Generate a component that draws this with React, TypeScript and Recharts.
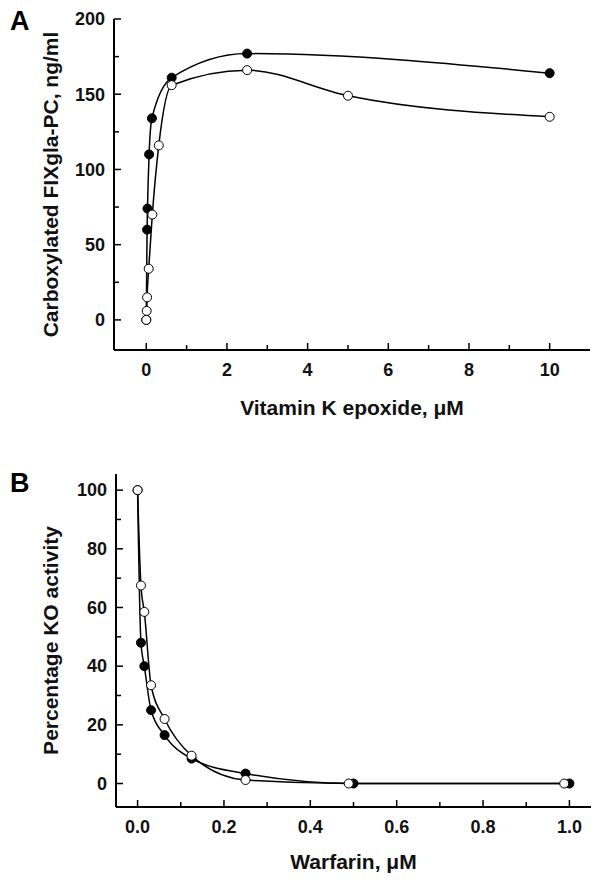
import { LineChart, Line, XAxis, YAxis, Label } from "recharts";

// Panel A: carboxylation vs vitamin K epoxide
const aFilledX = [0, 0.02, 0.03, 0.07, 0.14, 0.63, 2.5, 10];
const aFilledY = [0, 60, 74, 110, 134, 161, 177, 164];
const aOpenX = [0, 0.01, 0.02, 0.06, 0.15, 0.31, 0.63, 2.5, 5, 10];
const aOpenY = [0, 6, 15, 34, 70, 116, 156, 166, 149, 135];
const aXTicks = [0, 1, 2, 3, 4, 5, 6, 7, 8, 9, 10];
const aYTicks = [0, 25, 50, 75, 100, 125, 150, 175, 200];

// Panel B: KO activity vs warfarin
const bFilledX = [0, 0.0078, 0.0156, 0.03125, 0.0625, 0.125, 0.25, 0.5, 1.0];
const bFilledY = [100, 48, 40, 25, 16.5, 8.5, 3.4, 0, 0];
const bOpenX = [0, 0.0078, 0.0156, 0.03125, 0.0625, 0.125, 0.25, 0.489, 0.988];
const bOpenY = [100, 67.5, 58.5, 33.5, 22, 9.5, 1.2, 0, 0];
const bXTicks = [0, 0.1, 0.2, 0.3, 0.4, 0.5, 0.6, 0.7, 0.8, 0.9, 1.0];
const bYTicks = [0, 10, 20, 30, 40, 50, 60, 70, 80, 90, 100];

const FONT = "'Liberation Sans', Arial, sans-serif";

const zip = (xs: number[], ys: number[]) => xs.map((x, i) => ({ x, y: ys[i] }));

function isMajor(value: number, minorStep: number) {
  return Math.round(value / minorStep) % 2 === 0;
}

function makeXTick(minorStep: number, fmt: (v: number) => string) {
  return (props: any) => {
    const { x, y, payload } = props;
    const major = isMajor(payload.value, minorStep);
    return (
      <g>
        <line x1={x} x2={x} y1={y} y2={y - (major ? 7 : 5)} stroke="#000" strokeWidth={1.5} />
        {major && (
          <text x={x} y={y + 20} dy="0.35em" textAnchor="middle" fontFamily={FONT} fontWeight="bold" fontSize={18} fill="#111">
            {fmt(payload.value)}
          </text>
        )}
      </g>
    );
  };
}

function makeYTick(minorStep: number) {
  return (props: any) => {
    const { x, y, payload } = props;
    const major = isMajor(payload.value, minorStep);
    return (
      <g>
        <line x1={x} x2={x + (major ? 7 : 5)} y1={y} y2={y} stroke="#000" strokeWidth={1.5} />
        {major && (
          <text x={x - 9} y={y} dy="0.35em" textAnchor="end" fontFamily={FONT} fontWeight="bold" fontSize={18} fill="#111">
            {payload.value}
          </text>
        )}
      </g>
    );
  };
}

const axisLine = { stroke: "#000", strokeWidth: 2 };
const filledDot = { r: 4.5, fill: "#000", stroke: "#000", strokeWidth: 1 };
const openDot = { r: 4.5, fill: "#fff", stroke: "#000", strokeWidth: 1 };

interface PanelProps {
  top: number;
  height: number;
  margin: { top: number; right: number; left: number; bottom: number };
  yWidth: number;
  xHeight: number;
  xDomain: [number, number];
  yDomain: [number, number];
  xTicks: number[];
  yTicks: number[];
  xMinor: number;
  yMinor: number;
  xFmt: (v: number) => string;
  xTitle: string;
  xTitleOffset: number;
  yTitle: string;
  filled: { x: number; y: number }[];
  open: { x: number; y: number }[];
  letter: string;
  letterY: number;
}

function Panel(p: PanelProps) {
  return (
    <div style={{ position: "absolute", left: 0, top: p.top, width: 603, height: p.height }}>
      <LineChart width={603} height={p.height} margin={p.margin}>
        <XAxis
          dataKey="x"
          type="number"
          domain={p.xDomain}
          allowDataOverflow
          ticks={p.xTicks}
          interval={0}
          tickSize={0}
          tickMargin={0}
          tickLine={false}
          axisLine={axisLine}
          height={p.xHeight}
          tick={makeXTick(p.xMinor, p.xFmt)}
        >
          <Label
            content={(props: any) => {
              const vb = props.viewBox;
              return (
                <text x={vb.x + vb.width / 2} y={vb.y + p.xTitleOffset} dy="0.35em" textAnchor="middle" fontFamily={FONT} fontWeight="bold" fontSize={21} fill="#111">
                  {p.xTitle}
                </text>
              );
            }}
          />
        </XAxis>
        <XAxis xAxisId="top" orientation="top" type="number" domain={p.xDomain} height={0} tick={false} tickLine={false} axisLine={axisLine} />
        <YAxis
          type="number"
          domain={p.yDomain}
          allowDataOverflow
          ticks={p.yTicks}
          interval={0}
          tickSize={0}
          tickMargin={0}
          tickLine={false}
          axisLine={axisLine}
          width={p.yWidth}
          tick={makeYTick(p.yMinor)}
        >
          <Label
            content={(props: any) => {
              const vb = props.viewBox;
              const cy = vb.y + vb.height / 2;
              return (
                <text x={51} y={cy} dy="0.35em" textAnchor="middle" transform={`rotate(-90 51 ${cy})`} fontFamily={FONT} fontWeight="bold" fontSize={21} fill="#111">
                  {p.yTitle}
                </text>
              );
            }}
          />
        </YAxis>
        <YAxis yAxisId="right" orientation="right" type="number" domain={p.yDomain} width={0} tick={false} tickLine={false} axisLine={axisLine} />
        <Line data={p.filled} dataKey="y" type="monotone" stroke="#000" strokeWidth={1.5} dot={filledDot} isAnimationActive={false} />
        <Line data={p.open} dataKey="y" type="monotone" stroke="#000" strokeWidth={1.5} dot={openDot} isAnimationActive={false} />
      </LineChart>
      <div style={{ position: "absolute", left: 10, top: p.letterY, fontFamily: FONT, fontWeight: "bold", fontSize: 27, lineHeight: "27px", color: "#000" }}>
        {p.letter}
      </div>
    </div>
  );
}

export default function App() {
  return (
    <div style={{ position: "absolute", left: 0, top: 0, width: 603, height: 884, background: "#fff" }}>
      <Panel
        top={0}
        height={430}
        margin={{ top: 19, right: 13, left: 0, bottom: 0 }}
        yWidth={114}
        xHeight={80}
        xDomain={[-0.8, 11]}
        yDomain={[-20, 200]}
        xTicks={aXTicks}
        yTicks={aYTicks}
        xMinor={1}
        yMinor={25}
        xFmt={(v) => String(v)}
        xTitle="Vitamin K epoxide, μM"
        xTitleOffset={58}
        yTitle="Carboxylated FIXgla-PC, ng/ml"
        filled={zip(aFilledX, aFilledY)}
        open={zip(aOpenX, aOpenY)}
        letter="A"
        letterY={8}
      />
      <Panel
        top={440}
        height={444}
        margin={{ top: 34, right: 12, left: 0, bottom: 0 }}
        yWidth={116}
        xHeight={77}
        xDomain={[-0.05, 1.05]}
        yDomain={[-8, 105.5]}
        xTicks={bXTicks}
        yTicks={bYTicks}
        xMinor={0.1}
        yMinor={10}
        xFmt={(v) => v.toFixed(1)}
        xTitle="Warfarin, μM"
        xTitleOffset={55}
        yTitle="Percentage KO activity"
        filled={zip(bFilledX, bFilledY)}
        open={zip(bOpenX, bOpenY)}
        letter="B"
        letterY={30}
      />
    </div>
  );
}
